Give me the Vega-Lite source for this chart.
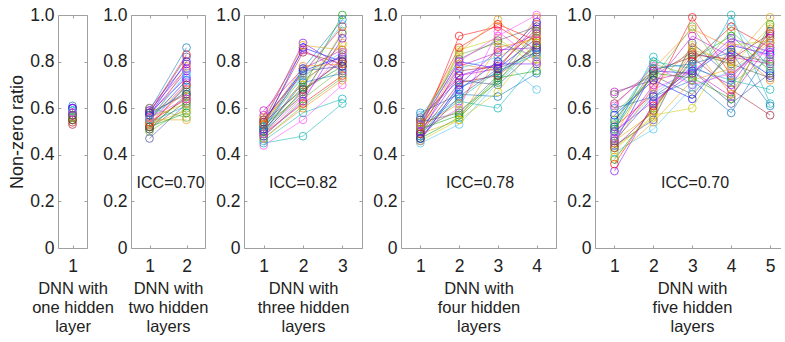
{
"$schema": "https://vega.github.io/schema/vega-lite/v6.json",
"padding": {"left": 8, "top": 6, "right": 0, "bottom": 0},
"background": "white",
"config": {
  "font": "Liberation Sans",
  "view": {"stroke": null},
  "axis": {"labelFont": "Liberation Sans", "labelFontSize": 17.5, "labelColor": "#222222", "titleFont": "Liberation Sans", "titleFontSize": 16.5, "titleFontWeight": "normal", "titleColor": "#222222", "titleLineHeight": 19, "domainColor": "#a0a0a0", "tickColor": "#a0a0a0", "tickSize": -3, "grid": false, "labelFlush": false, "labelOverlap": false, "labelBound": false}
},
"datasets": {"d": [
{"p":1,"s":1,"x":1,"y":0.57},{"p":1,"s":2,"x":1,"y":0.58},{"p":1,"s":3,"x":1,"y":0.56},{"p":1,"s":4,"x":1,"y":0.60},{"p":1,"s":5,"x":1,"y":0.55},{"p":1,"s":6,"x":1,"y":0.59},{"p":1,"s":7,"x":1,"y":0.57},{"p":1,"s":8,"x":1,"y":0.54},{"p":1,"s":9,"x":1,"y":0.58},{"p":1,"s":10,"x":1,"y":0.61},{"p":1,"s":11,"x":1,"y":0.56},{"p":1,"s":12,"x":1,"y":0.57},{"p":1,"s":13,"x":1,"y":0.59},{"p":1,"s":14,"x":1,"y":0.53},{"p":1,"s":15,"x":1,"y":0.58},{"p":1,"s":16,"x":1,"y":0.56},{"p":1,"s":17,"x":1,"y":0.60},{"p":1,"s":18,"x":1,"y":0.57},{"p":1,"s":19,"x":1,"y":0.55},{"p":1,"s":20,"x":1,"y":0.58},{"p":1,"s":21,"x":1,"y":0.59},{"p":1,"s":22,"x":1,"y":0.56},{"p":1,"s":23,"x":1,"y":0.57},{"p":1,"s":24,"x":1,"y":0.60},{"p":1,"s":25,"x":1,"y":0.54},{"p":1,"s":26,"x":1,"y":0.58},{"p":1,"s":27,"x":1,"y":0.57},{"p":1,"s":28,"x":1,"y":0.56},{"p":1,"s":29,"x":1,"y":0.59},{"p":1,"s":30,"x":1,"y":0.55},{"p":1,"s":31,"x":1,"y":0.58},{"p":1,"s":32,"x":1,"y":0.57},
{"p":2,"s":1,"x":1,"y":0.55},{"p":2,"s":1,"x":2,"y":0.72},
{"p":2,"s":2,"x":1,"y":0.58},{"p":2,"s":2,"x":2,"y":0.83},
{"p":2,"s":3,"x":1,"y":0.52},{"p":2,"s":3,"x":2,"y":0.65},
{"p":2,"s":4,"x":1,"y":0.60},{"p":2,"s":4,"x":2,"y":0.79},
{"p":2,"s":5,"x":1,"y":0.54},{"p":2,"s":5,"x":2,"y":0.61},
{"p":2,"s":6,"x":1,"y":0.56},{"p":2,"s":6,"x":2,"y":0.70},
{"p":2,"s":7,"x":1,"y":0.51},{"p":2,"s":7,"x":2,"y":0.63},
{"p":2,"s":8,"x":1,"y":0.57},{"p":2,"s":8,"x":2,"y":0.76},
{"p":2,"s":9,"x":1,"y":0.53},{"p":2,"s":9,"x":2,"y":0.68},
{"p":2,"s":10,"x":1,"y":0.59},{"p":2,"s":10,"x":2,"y":0.86},
{"p":2,"s":11,"x":1,"y":0.55},{"p":2,"s":11,"x":2,"y":0.55},
{"p":2,"s":12,"x":1,"y":0.50},{"p":2,"s":12,"x":2,"y":0.60},
{"p":2,"s":13,"x":1,"y":0.56},{"p":2,"s":13,"x":2,"y":0.74},
{"p":2,"s":14,"x":1,"y":0.58},{"p":2,"s":14,"x":2,"y":0.66},
{"p":2,"s":15,"x":1,"y":0.53},{"p":2,"s":15,"x":2,"y":0.71},
{"p":2,"s":16,"x":1,"y":0.47},{"p":2,"s":16,"x":2,"y":0.62},
{"p":2,"s":17,"x":1,"y":0.57},{"p":2,"s":17,"x":2,"y":0.80},
{"p":2,"s":18,"x":1,"y":0.54},{"p":2,"s":18,"x":2,"y":0.64},
{"p":2,"s":19,"x":1,"y":0.52},{"p":2,"s":19,"x":2,"y":0.58},
{"p":2,"s":20,"x":1,"y":0.59},{"p":2,"s":20,"x":2,"y":0.77},
{"p":2,"s":21,"x":1,"y":0.55},{"p":2,"s":21,"x":2,"y":0.69},
{"p":2,"s":22,"x":1,"y":0.56},{"p":2,"s":22,"x":2,"y":0.62},
{"p":2,"s":23,"x":1,"y":0.51},{"p":2,"s":23,"x":2,"y":0.66},
{"p":2,"s":24,"x":1,"y":0.58},{"p":2,"s":24,"x":2,"y":0.73},
{"p":2,"s":25,"x":1,"y":0.54},{"p":2,"s":25,"x":2,"y":0.78},
{"p":2,"s":26,"x":1,"y":0.57},{"p":2,"s":26,"x":2,"y":0.67},
{"p":2,"s":27,"x":1,"y":0.53},{"p":2,"s":27,"x":2,"y":0.59},
{"p":2,"s":28,"x":1,"y":0.60},{"p":2,"s":28,"x":2,"y":0.56},
{"p":2,"s":29,"x":1,"y":0.55},{"p":2,"s":29,"x":2,"y":0.75},
{"p":2,"s":30,"x":1,"y":0.52},{"p":2,"s":30,"x":2,"y":0.70},
{"p":2,"s":31,"x":1,"y":0.56},{"p":2,"s":31,"x":2,"y":0.64},
{"p":2,"s":32,"x":1,"y":0.58},{"p":2,"s":32,"x":2,"y":0.82},
{"p":3,"s":1,"x":1,"y":0.52},{"p":3,"s":1,"x":2,"y":0.86},{"p":3,"s":1,"x":3,"y":0.80},
{"p":3,"s":2,"x":1,"y":0.55},{"p":3,"s":2,"x":2,"y":0.75},{"p":3,"s":2,"x":3,"y":0.95},
{"p":3,"s":3,"x":1,"y":0.49},{"p":3,"s":3,"x":2,"y":0.68},{"p":3,"s":3,"x":3,"y":0.78},
{"p":3,"s":4,"x":1,"y":0.59},{"p":3,"s":4,"x":2,"y":0.77},{"p":3,"s":4,"x":3,"y":0.85},
{"p":3,"s":5,"x":1,"y":0.45},{"p":3,"s":5,"x":2,"y":0.48},{"p":3,"s":5,"x":3,"y":0.62},
{"p":3,"s":6,"x":1,"y":0.53},{"p":3,"s":6,"x":2,"y":0.65},{"p":3,"s":6,"x":3,"y":0.93},
{"p":3,"s":7,"x":1,"y":0.50},{"p":3,"s":7,"x":2,"y":0.72},{"p":3,"s":7,"x":3,"y":0.83},
{"p":3,"s":8,"x":1,"y":0.54},{"p":3,"s":8,"x":2,"y":0.88},{"p":3,"s":8,"x":3,"y":0.78},
{"p":3,"s":9,"x":1,"y":0.47},{"p":3,"s":9,"x":2,"y":0.60},{"p":3,"s":9,"x":3,"y":0.72},
{"p":3,"s":10,"x":1,"y":0.52},{"p":3,"s":10,"x":2,"y":0.77},{"p":3,"s":10,"x":3,"y":0.98},
{"p":3,"s":11,"x":1,"y":0.56},{"p":3,"s":11,"x":2,"y":0.70},{"p":3,"s":11,"x":3,"y":0.88},
{"p":3,"s":12,"x":1,"y":0.48},{"p":3,"s":12,"x":2,"y":0.64},{"p":3,"s":12,"x":3,"y":0.77},
{"p":3,"s":13,"x":1,"y":0.51},{"p":3,"s":13,"x":2,"y":0.74},{"p":3,"s":13,"x":3,"y":0.84},
{"p":3,"s":14,"x":1,"y":0.53},{"p":3,"s":14,"x":2,"y":0.84},{"p":3,"s":14,"x":3,"y":0.79},
{"p":3,"s":15,"x":1,"y":0.44},{"p":3,"s":15,"x":2,"y":0.55},{"p":3,"s":15,"x":3,"y":0.70},
{"p":3,"s":16,"x":1,"y":0.50},{"p":3,"s":16,"x":2,"y":0.66},{"p":3,"s":16,"x":3,"y":0.92},
{"p":3,"s":17,"x":1,"y":0.55},{"p":3,"s":17,"x":2,"y":0.76},{"p":3,"s":17,"x":3,"y":0.82},
{"p":3,"s":18,"x":1,"y":0.49},{"p":3,"s":18,"x":2,"y":0.62},{"p":3,"s":18,"x":3,"y":0.74},
{"p":3,"s":19,"x":1,"y":0.52},{"p":3,"s":19,"x":2,"y":0.69},{"p":3,"s":19,"x":3,"y":1.00},
{"p":3,"s":20,"x":1,"y":0.57},{"p":3,"s":20,"x":2,"y":0.85},{"p":3,"s":20,"x":3,"y":0.76},
{"p":3,"s":21,"x":1,"y":0.46},{"p":3,"s":21,"x":2,"y":0.58},{"p":3,"s":21,"x":3,"y":0.64},
{"p":3,"s":22,"x":1,"y":0.54},{"p":3,"s":22,"x":2,"y":0.73},{"p":3,"s":22,"x":3,"y":0.87},
{"p":3,"s":23,"x":1,"y":0.51},{"p":3,"s":23,"x":2,"y":0.67},{"p":3,"s":23,"x":3,"y":0.81},
{"p":3,"s":24,"x":1,"y":0.48},{"p":3,"s":24,"x":2,"y":0.63},{"p":3,"s":24,"x":3,"y":0.90},
{"p":3,"s":25,"x":1,"y":0.53},{"p":3,"s":25,"x":2,"y":0.78},{"p":3,"s":25,"x":3,"y":0.79},
{"p":3,"s":26,"x":1,"y":0.50},{"p":3,"s":26,"x":2,"y":0.71},{"p":3,"s":26,"x":3,"y":0.75},
{"p":3,"s":27,"x":1,"y":0.55},{"p":3,"s":27,"x":2,"y":0.87},{"p":3,"s":27,"x":3,"y":0.85},
{"p":3,"s":28,"x":1,"y":0.47},{"p":3,"s":28,"x":2,"y":0.61},{"p":3,"s":28,"x":3,"y":0.73},
{"p":3,"s":29,"x":1,"y":0.52},{"p":3,"s":29,"x":2,"y":0.75},{"p":3,"s":29,"x":3,"y":0.96},
{"p":3,"s":30,"x":1,"y":0.54},{"p":3,"s":30,"x":2,"y":0.68},{"p":3,"s":30,"x":3,"y":0.80},
{"p":3,"s":31,"x":1,"y":0.49},{"p":3,"s":31,"x":2,"y":0.65},{"p":3,"s":31,"x":3,"y":0.84},
{"p":3,"s":32,"x":1,"y":0.51},{"p":3,"s":32,"x":2,"y":0.76},{"p":3,"s":32,"x":3,"y":0.78},
{"p":4,"s":1,"x":1,"y":0.53},{"p":4,"s":1,"x":2,"y":0.80},{"p":4,"s":1,"x":3,"y":0.77},{"p":4,"s":1,"x":4,"y":0.90},
{"p":4,"s":2,"x":1,"y":0.50},{"p":4,"s":2,"x":2,"y":0.91},{"p":4,"s":2,"x":3,"y":0.95},{"p":4,"s":2,"x":4,"y":0.85},
{"p":4,"s":3,"x":1,"y":0.47},{"p":4,"s":3,"x":2,"y":0.56},{"p":4,"s":3,"x":3,"y":0.72},{"p":4,"s":3,"x":4,"y":0.88},
{"p":4,"s":4,"x":1,"y":0.55},{"p":4,"s":4,"x":2,"y":0.74},{"p":4,"s":4,"x":3,"y":0.77},{"p":4,"s":4,"x":4,"y":0.96},
{"p":4,"s":5,"x":1,"y":0.52},{"p":4,"s":5,"x":2,"y":0.63},{"p":4,"s":5,"x":3,"y":0.60},{"p":4,"s":5,"x":4,"y":0.80},
{"p":4,"s":6,"x":1,"y":0.48},{"p":4,"s":6,"x":2,"y":0.85},{"p":4,"s":6,"x":3,"y":0.90},{"p":4,"s":6,"x":4,"y":0.78},
{"p":4,"s":7,"x":1,"y":0.54},{"p":4,"s":7,"x":2,"y":0.58},{"p":4,"s":7,"x":3,"y":0.74},{"p":4,"s":7,"x":4,"y":0.93},
{"p":4,"s":8,"x":1,"y":0.46},{"p":4,"s":8,"x":2,"y":0.70},{"p":4,"s":8,"x":3,"y":0.85},{"p":4,"s":8,"x":4,"y":0.86},
{"p":4,"s":9,"x":1,"y":0.51},{"p":4,"s":9,"x":2,"y":0.79},{"p":4,"s":9,"x":3,"y":0.76},{"p":4,"s":9,"x":4,"y":0.99},
{"p":4,"s":10,"x":1,"y":0.58},{"p":4,"s":10,"x":2,"y":0.66},{"p":4,"s":10,"x":3,"y":0.65},{"p":4,"s":10,"x":4,"y":0.75},
{"p":4,"s":11,"x":1,"y":0.49},{"p":4,"s":11,"x":2,"y":0.55},{"p":4,"s":11,"x":3,"y":0.82},{"p":4,"s":11,"x":4,"y":0.91},
{"p":4,"s":12,"x":1,"y":0.53},{"p":4,"s":12,"x":2,"y":0.83},{"p":4,"s":12,"x":3,"y":0.88},{"p":4,"s":12,"x":4,"y":0.82},
{"p":4,"s":13,"x":1,"y":0.45},{"p":4,"s":13,"x":2,"y":0.53},{"p":4,"s":13,"x":3,"y":0.71},{"p":4,"s":13,"x":4,"y":0.87},
{"p":4,"s":14,"x":1,"y":0.52},{"p":4,"s":14,"x":2,"y":0.76},{"p":4,"s":14,"x":3,"y":0.78},{"p":4,"s":14,"x":4,"y":0.94},
{"p":4,"s":15,"x":1,"y":0.50},{"p":4,"s":15,"x":2,"y":0.60},{"p":4,"s":15,"x":3,"y":0.93},{"p":4,"s":15,"x":4,"y":0.80},
{"p":4,"s":16,"x":1,"y":0.56},{"p":4,"s":16,"x":2,"y":0.72},{"p":4,"s":16,"x":3,"y":0.70},{"p":4,"s":16,"x":4,"y":0.85},
{"p":4,"s":17,"x":1,"y":0.47},{"p":4,"s":17,"x":2,"y":0.68},{"p":4,"s":17,"x":3,"y":0.80},{"p":4,"s":17,"x":4,"y":0.97},
{"p":4,"s":18,"x":1,"y":0.54},{"p":4,"s":18,"x":2,"y":0.86},{"p":4,"s":18,"x":3,"y":0.96},{"p":4,"s":18,"x":4,"y":0.89},
{"p":4,"s":19,"x":1,"y":0.51},{"p":4,"s":19,"x":2,"y":0.57},{"p":4,"s":19,"x":3,"y":0.73},{"p":4,"s":19,"x":4,"y":0.76},
{"p":4,"s":20,"x":1,"y":0.49},{"p":4,"s":20,"x":2,"y":0.78},{"p":4,"s":20,"x":3,"y":0.84},{"p":4,"s":20,"x":4,"y":0.92},
{"p":4,"s":21,"x":1,"y":0.53},{"p":4,"s":21,"x":2,"y":0.64},{"p":4,"s":21,"x":3,"y":0.76},{"p":4,"s":21,"x":4,"y":0.83},
{"p":4,"s":22,"x":1,"y":0.46},{"p":4,"s":22,"x":2,"y":0.55},{"p":4,"s":22,"x":3,"y":0.67},{"p":4,"s":22,"x":4,"y":0.88},
{"p":4,"s":23,"x":1,"y":0.55},{"p":4,"s":23,"x":2,"y":0.81},{"p":4,"s":23,"x":3,"y":0.89},{"p":4,"s":23,"x":4,"y":0.95},
{"p":4,"s":24,"x":1,"y":0.50},{"p":4,"s":24,"x":2,"y":0.74},{"p":4,"s":24,"x":3,"y":0.79},{"p":4,"s":24,"x":4,"y":0.79},
{"p":4,"s":25,"x":1,"y":0.52},{"p":4,"s":25,"x":2,"y":0.62},{"p":4,"s":25,"x":3,"y":0.86},{"p":4,"s":25,"x":4,"y":0.90},
{"p":4,"s":26,"x":1,"y":0.48},{"p":4,"s":26,"x":2,"y":0.69},{"p":4,"s":26,"x":3,"y":0.75},{"p":4,"s":26,"x":4,"y":0.86},
{"p":4,"s":27,"x":1,"y":0.54},{"p":4,"s":27,"x":2,"y":0.84},{"p":4,"s":27,"x":3,"y":0.98},{"p":4,"s":27,"x":4,"y":0.81},
{"p":4,"s":28,"x":1,"y":0.51},{"p":4,"s":28,"x":2,"y":0.59},{"p":4,"s":28,"x":3,"y":0.71},{"p":4,"s":28,"x":4,"y":0.93},
{"p":4,"s":29,"x":1,"y":0.57},{"p":4,"s":29,"x":2,"y":0.77},{"p":4,"s":29,"x":3,"y":0.82},{"p":4,"s":29,"x":4,"y":0.68},
{"p":4,"s":30,"x":1,"y":0.49},{"p":4,"s":30,"x":2,"y":0.71},{"p":4,"s":30,"x":3,"y":0.74},{"p":4,"s":30,"x":4,"y":0.87},
{"p":4,"s":31,"x":1,"y":0.53},{"p":4,"s":31,"x":2,"y":0.80},{"p":4,"s":31,"x":3,"y":0.91},{"p":4,"s":31,"x":4,"y":1.00},
{"p":4,"s":32,"x":1,"y":0.47},{"p":4,"s":32,"x":2,"y":0.65},{"p":4,"s":32,"x":3,"y":0.77},{"p":4,"s":32,"x":4,"y":0.84},
{"p":5,"s":1,"x":1,"y":0.45},{"p":5,"s":1,"x":2,"y":0.76},{"p":5,"s":1,"x":3,"y":0.75},{"p":5,"s":1,"x":4,"y":0.87},{"p":5,"s":1,"x":5,"y":0.83},
{"p":5,"s":2,"x":1,"y":0.52},{"p":5,"s":2,"x":2,"y":0.66},{"p":5,"s":2,"x":3,"y":0.99},{"p":5,"s":2,"x":4,"y":0.74},{"p":5,"s":2,"x":5,"y":0.90},
{"p":5,"s":3,"x":1,"y":0.38},{"p":5,"s":3,"x":2,"y":0.60},{"p":5,"s":3,"x":3,"y":0.81},{"p":5,"s":3,"x":4,"y":0.91},{"p":5,"s":3,"x":5,"y":0.76},
{"p":5,"s":4,"x":1,"y":0.67},{"p":5,"s":4,"x":2,"y":0.72},{"p":5,"s":4,"x":3,"y":0.76},{"p":5,"s":4,"x":4,"y":0.65},{"p":5,"s":4,"x":5,"y":0.88},
{"p":5,"s":5,"x":1,"y":0.50},{"p":5,"s":5,"x":2,"y":0.82},{"p":5,"s":5,"x":3,"y":0.70},{"p":5,"s":5,"x":4,"y":1.00},{"p":5,"s":5,"x":5,"y":0.62},
{"p":5,"s":6,"x":1,"y":0.43},{"p":5,"s":6,"x":2,"y":0.56},{"p":5,"s":6,"x":3,"y":0.87},{"p":5,"s":6,"x":4,"y":0.78},{"p":5,"s":6,"x":5,"y":0.95},
{"p":5,"s":7,"x":1,"y":0.55},{"p":5,"s":7,"x":2,"y":0.74},{"p":5,"s":7,"x":3,"y":0.66},{"p":5,"s":7,"x":4,"y":0.83},{"p":5,"s":7,"x":5,"y":0.80},
{"p":5,"s":8,"x":1,"y":0.33},{"p":5,"s":8,"x":2,"y":0.62},{"p":5,"s":8,"x":3,"y":0.78},{"p":5,"s":8,"x":4,"y":0.70},{"p":5,"s":8,"x":5,"y":0.93},
{"p":5,"s":9,"x":1,"y":0.48},{"p":5,"s":9,"x":2,"y":0.77},{"p":5,"s":9,"x":3,"y":0.94},{"p":5,"s":9,"x":4,"y":0.86},{"p":5,"s":9,"x":5,"y":0.72},
{"p":5,"s":10,"x":1,"y":0.60},{"p":5,"s":10,"x":2,"y":0.65},{"p":5,"s":10,"x":3,"y":0.72},{"p":5,"s":10,"x":4,"y":0.58},{"p":5,"s":10,"x":5,"y":0.85},
{"p":5,"s":11,"x":1,"y":0.46},{"p":5,"s":11,"x":2,"y":0.58},{"p":5,"s":11,"x":3,"y":0.85},{"p":5,"s":11,"x":4,"y":0.80},{"p":5,"s":11,"x":5,"y":0.99},
{"p":5,"s":12,"x":1,"y":0.53},{"p":5,"s":12,"x":2,"y":0.79},{"p":5,"s":12,"x":3,"y":0.74},{"p":5,"s":12,"x":4,"y":0.93},{"p":5,"s":12,"x":5,"y":0.78},
{"p":5,"s":13,"x":1,"y":0.41},{"p":5,"s":13,"x":2,"y":0.51},{"p":5,"s":13,"x":3,"y":0.69},{"p":5,"s":13,"x":4,"y":0.76},{"p":5,"s":13,"x":5,"y":0.87},
{"p":5,"s":14,"x":1,"y":0.62},{"p":5,"s":14,"x":2,"y":0.76},{"p":5,"s":14,"x":3,"y":0.82},{"p":5,"s":14,"x":4,"y":0.68},{"p":5,"s":14,"x":5,"y":0.57},
{"p":5,"s":15,"x":1,"y":0.49},{"p":5,"s":15,"x":2,"y":0.68},{"p":5,"s":15,"x":3,"y":0.76},{"p":5,"s":15,"x":4,"y":0.88},{"p":5,"s":15,"x":5,"y":0.82},
{"p":5,"s":16,"x":1,"y":0.44},{"p":5,"s":16,"x":2,"y":0.55},{"p":5,"s":16,"x":3,"y":0.88},{"p":5,"s":16,"x":4,"y":0.73},{"p":5,"s":16,"x":5,"y":0.91},
{"p":5,"s":17,"x":1,"y":0.57},{"p":5,"s":17,"x":2,"y":0.72},{"p":5,"s":17,"x":3,"y":0.64},{"p":5,"s":17,"x":4,"y":0.85},{"p":5,"s":17,"x":5,"y":0.74},
{"p":5,"s":18,"x":1,"y":0.36},{"p":5,"s":18,"x":2,"y":0.61},{"p":5,"s":18,"x":3,"y":0.80},{"p":5,"s":18,"x":4,"y":0.95},{"p":5,"s":18,"x":5,"y":0.86},
{"p":5,"s":19,"x":1,"y":0.51},{"p":5,"s":19,"x":2,"y":0.75},{"p":5,"s":19,"x":3,"y":0.73},{"p":5,"s":19,"x":4,"y":0.64},{"p":5,"s":19,"x":5,"y":0.96},
{"p":5,"s":20,"x":1,"y":0.47},{"p":5,"s":20,"x":2,"y":0.70},{"p":5,"s":20,"x":3,"y":0.91},{"p":5,"s":20,"x":4,"y":0.82},{"p":5,"s":20,"x":5,"y":0.79},
{"p":5,"s":21,"x":1,"y":0.54},{"p":5,"s":21,"x":2,"y":0.80},{"p":5,"s":21,"x":3,"y":0.77},{"p":5,"s":21,"x":4,"y":0.72},{"p":5,"s":21,"x":5,"y":0.68},
{"p":5,"s":22,"x":1,"y":0.42},{"p":5,"s":22,"x":2,"y":0.57},{"p":5,"s":22,"x":3,"y":0.60},{"p":5,"s":22,"x":4,"y":0.87},{"p":5,"s":22,"x":5,"y":0.89},
{"p":5,"s":23,"x":1,"y":0.66},{"p":5,"s":23,"x":2,"y":0.74},{"p":5,"s":23,"x":3,"y":0.84},{"p":5,"s":23,"x":4,"y":0.79},{"p":5,"s":23,"x":5,"y":0.73},
{"p":5,"s":24,"x":1,"y":0.50},{"p":5,"s":24,"x":2,"y":0.63},{"p":5,"s":24,"x":3,"y":0.75},{"p":5,"s":24,"x":4,"y":0.90},{"p":5,"s":24,"x":5,"y":0.84},
{"p":5,"s":25,"x":1,"y":0.45},{"p":5,"s":25,"x":2,"y":0.69},{"p":5,"s":25,"x":3,"y":0.86},{"p":5,"s":25,"x":4,"y":0.66},{"p":5,"s":25,"x":5,"y":0.94},
{"p":5,"s":26,"x":1,"y":0.52},{"p":5,"s":26,"x":2,"y":0.77},{"p":5,"s":26,"x":3,"y":0.79},{"p":5,"s":26,"x":4,"y":0.84},{"p":5,"s":26,"x":5,"y":0.61},
{"p":5,"s":27,"x":1,"y":0.39},{"p":5,"s":27,"x":2,"y":0.54},{"p":5,"s":27,"x":3,"y":0.72},{"p":5,"s":27,"x":4,"y":0.77},{"p":5,"s":27,"x":5,"y":0.88},
{"p":5,"s":28,"x":1,"y":0.58},{"p":5,"s":28,"x":2,"y":0.73},{"p":5,"s":28,"x":3,"y":0.95},{"p":5,"s":28,"x":4,"y":0.71},{"p":5,"s":28,"x":5,"y":0.81},
{"p":5,"s":29,"x":1,"y":0.48},{"p":5,"s":29,"x":2,"y":0.66},{"p":5,"s":29,"x":3,"y":0.78},{"p":5,"s":29,"x":4,"y":0.97},{"p":5,"s":29,"x":5,"y":0.77},
{"p":5,"s":30,"x":1,"y":0.43},{"p":5,"s":30,"x":2,"y":0.59},{"p":5,"s":30,"x":3,"y":0.83},{"p":5,"s":30,"x":4,"y":0.81},{"p":5,"s":30,"x":5,"y":0.92},
{"p":5,"s":31,"x":1,"y":0.61},{"p":5,"s":31,"x":2,"y":0.78},{"p":5,"s":31,"x":3,"y":0.70},{"p":5,"s":31,"x":4,"y":0.75},{"p":5,"s":31,"x":5,"y":0.86},
{"p":5,"s":32,"x":1,"y":0.46},{"p":5,"s":32,"x":2,"y":0.65},{"p":5,"s":32,"x":3,"y":0.76},{"p":5,"s":32,"x":4,"y":0.62},{"p":5,"s":32,"x":5,"y":0.75}
]},
"bounds": "flush",
"spacing": 44,
"hconcat": [
{
  "width": 29, "height": 233,
  "layer": [
    {"data": {"name": "d"}, "transform": [{"filter": "datum.p == 1"}],
     "mark": {"type": "line", "strokeWidth": 0.7, "opacity": 0.75},
     "encoding": {
       "x": {"field": "x", "type": "quantitative", "scale": {"domain": [0.5, 1.5], "nice": false, "zero": false}, "axis": {"orient": "bottom", "values": [1], "format": "d", "labelPadding": 12, "title": ["DNN with", "one hidden", "layer"], "titlePadding": 6}},
       "y": {"field": "y", "type": "quantitative", "scale": {"domain": [0, 1], "nice": false}, "axis": {"orient": "left", "values": [0, 0.2, 0.4, 0.6, 0.8, 1], "labelExpr": "datum.value == 0 ? '0' : format(datum.value, '.1f')", "labelPadding": 7, "title": "Non-zero ratio", "titleFontSize": 18, "titlePadding": 3}},
       "color": {"field": "s", "type": "nominal", "scale": {"range": ["#0000ff","#ff0000","#00a000","#c000c0","#00b0b0","#c8c800","#505050","#8000ff","#ff8000","#0070c0","#e0a000","#60b030","#40c0f0","#a01030","#ff40ff","#4040a0"]}, "legend": null}
     }},
    {"data": {"name": "d"}, "transform": [{"filter": "datum.p == 1"}],
     "mark": {"type": "point", "shape": "circle", "filled": false, "size": 60, "strokeWidth": 0.8, "opacity": 0.85},
     "encoding": {
       "x": {"field": "x", "type": "quantitative", "scale": {"domain": [0.5, 1.5], "nice": false, "zero": false}, "axis": {"orient": "top", "values": [1], "labels": false, "title": null}},
       "y": {"field": "y", "type": "quantitative", "scale": {"domain": [0, 1], "nice": false}, "axis": {"orient": "right", "values": [0, 0.2, 0.4, 0.6, 0.8, 1], "labels": false, "title": null}},
       "color": {"field": "s", "type": "nominal", "legend": null}
     }}
  ],
  "resolve": {"axis": {"x": "independent", "y": "independent"}}
},
{
  "bounds": "flush",
  "spacing": 39,
  "hconcat": [
  {
    "width": 74, "height": 233,
    "layer": [
      {"data": {"name": "d"}, "transform": [{"filter": "datum.p == 2"}],
       "mark": {"type": "line", "strokeWidth": 0.7, "opacity": 0.75},
       "encoding": {
         "x": {"field": "x", "type": "quantitative", "scale": {"domain": [0.5, 2.5], "nice": false, "zero": false}, "axis": {"orient": "bottom", "values": [1, 2], "format": "d", "labelPadding": 12, "title": ["DNN with", "two hidden", "layers"], "titlePadding": 6}},
         "y": {"field": "y", "type": "quantitative", "scale": {"domain": [0, 1], "nice": false}, "axis": {"orient": "left", "values": [0, 0.2, 0.4, 0.6, 0.8, 1], "labelExpr": "datum.value == 0 ? '0' : format(datum.value, '.1f')", "labelPadding": 7, "title": null}},
         "color": {"field": "s", "type": "nominal", "legend": null}
       }},
      {"data": {"name": "d"}, "transform": [{"filter": "datum.p == 2"}],
       "mark": {"type": "point", "shape": "circle", "filled": false, "size": 60, "strokeWidth": 0.8, "opacity": 0.85},
       "encoding": {
         "x": {"field": "x", "type": "quantitative", "scale": {"domain": [0.5, 2.5], "nice": false, "zero": false}, "axis": {"orient": "top", "values": [1, 2], "labels": false, "title": null}},
         "y": {"field": "y", "type": "quantitative", "scale": {"domain": [0, 1], "nice": false}, "axis": {"orient": "right", "values": [0, 0.2, 0.4, 0.6, 0.8, 1], "labels": false, "title": null}},
         "color": {"field": "s", "type": "nominal", "legend": null}
       }},
      {"data": {"values": [{"t": "ICC=0.70"}]},
       "mark": {"type": "text", "fontSize": 16, "color": "#222222", "font": "Liberation Sans"},
       "encoding": {"x": {"datum": 1.57, "type": "quantitative", "axis": null}, "y": {"datum": 0.28, "type": "quantitative", "axis": null}, "text": {"field": "t"}}}
    ],
    "resolve": {"axis": {"x": "independent", "y": "independent"}}
  },
  {
    "width": 118, "height": 233,
    "layer": [
      {"data": {"name": "d"}, "transform": [{"filter": "datum.p == 3"}],
       "mark": {"type": "line", "strokeWidth": 0.7, "opacity": 0.75},
       "encoding": {
         "x": {"field": "x", "type": "quantitative", "scale": {"domain": [0.5, 3.5], "nice": false, "zero": false}, "axis": {"orient": "bottom", "values": [1, 2, 3], "format": "d", "labelPadding": 12, "title": ["DNN with", "three hidden", "layers"], "titlePadding": 6}},
         "y": {"field": "y", "type": "quantitative", "scale": {"domain": [0, 1], "nice": false}, "axis": {"orient": "left", "values": [0, 0.2, 0.4, 0.6, 0.8, 1], "labelExpr": "datum.value == 0 ? '0' : format(datum.value, '.1f')", "labelPadding": 7, "title": null}},
         "color": {"field": "s", "type": "nominal", "legend": null}
       }},
      {"data": {"name": "d"}, "transform": [{"filter": "datum.p == 3"}],
       "mark": {"type": "point", "shape": "circle", "filled": false, "size": 60, "strokeWidth": 0.8, "opacity": 0.85},
       "encoding": {
         "x": {"field": "x", "type": "quantitative", "scale": {"domain": [0.5, 3.5], "nice": false, "zero": false}, "axis": {"orient": "top", "values": [1, 2, 3], "labels": false, "title": null}},
         "y": {"field": "y", "type": "quantitative", "scale": {"domain": [0, 1], "nice": false}, "axis": {"orient": "right", "values": [0, 0.2, 0.4, 0.6, 0.8, 1], "labels": false, "title": null}},
         "color": {"field": "s", "type": "nominal", "legend": null}
       }},
      {"data": {"values": [{"t": "ICC=0.82"}]},
       "mark": {"type": "text", "fontSize": 16, "color": "#222222", "font": "Liberation Sans"},
       "encoding": {"x": {"datum": 2.0, "type": "quantitative", "axis": null}, "y": {"datum": 0.28, "type": "quantitative", "axis": null}, "text": {"field": "t"}}}
    ],
    "resolve": {"axis": {"x": "independent", "y": "independent"}}
  },
  {
    "width": 155, "height": 233,
    "layer": [
      {"data": {"name": "d"}, "transform": [{"filter": "datum.p == 4"}],
       "mark": {"type": "line", "strokeWidth": 0.7, "opacity": 0.75},
       "encoding": {
         "x": {"field": "x", "type": "quantitative", "scale": {"domain": [0.5, 4.5], "nice": false, "zero": false}, "axis": {"orient": "bottom", "values": [1, 2, 3, 4], "format": "d", "labelPadding": 12, "title": ["DNN with", "four hidden", "layers"], "titlePadding": 6}},
         "y": {"field": "y", "type": "quantitative", "scale": {"domain": [0, 1], "nice": false}, "axis": {"orient": "left", "values": [0, 0.2, 0.4, 0.6, 0.8, 1], "labelExpr": "datum.value == 0 ? '0' : format(datum.value, '.1f')", "labelPadding": 7, "title": null}},
         "color": {"field": "s", "type": "nominal", "legend": null}
       }},
      {"data": {"name": "d"}, "transform": [{"filter": "datum.p == 4"}],
       "mark": {"type": "point", "shape": "circle", "filled": false, "size": 60, "strokeWidth": 0.8, "opacity": 0.85},
       "encoding": {
         "x": {"field": "x", "type": "quantitative", "scale": {"domain": [0.5, 4.5], "nice": false, "zero": false}, "axis": {"orient": "top", "values": [1, 2, 3, 4], "labels": false, "title": null}},
         "y": {"field": "y", "type": "quantitative", "scale": {"domain": [0, 1], "nice": false}, "axis": {"orient": "right", "values": [0, 0.2, 0.4, 0.6, 0.8, 1], "labels": false, "title": null}},
         "color": {"field": "s", "type": "nominal", "legend": null}
       }},
      {"data": {"values": [{"t": "ICC=0.78"}]},
       "mark": {"type": "text", "fontSize": 16, "color": "#222222", "font": "Liberation Sans"},
       "encoding": {"x": {"datum": 2.54, "type": "quantitative", "axis": null}, "y": {"datum": 0.28, "type": "quantitative", "axis": null}, "text": {"field": "t"}}}
    ],
    "resolve": {"axis": {"x": "independent", "y": "independent"}}
  },
  {
    "width": 186, "height": 233,
    "layer": [
      {"data": {"name": "d"}, "transform": [{"filter": "datum.p == 5"}],
       "mark": {"type": "line", "strokeWidth": 0.7, "opacity": 0.75},
       "encoding": {
         "x": {"field": "x", "type": "quantitative", "scale": {"domain": [0.5, 5.28], "nice": false, "zero": false}, "axis": {"orient": "bottom", "values": [1, 2, 3, 4, 5], "format": "d", "labelPadding": 12, "title": ["DNN with", "five hidden", "layers"], "titlePadding": 6, "titleX": 97}},
         "y": {"field": "y", "type": "quantitative", "scale": {"domain": [0, 1], "nice": false}, "axis": {"orient": "left", "values": [0, 0.2, 0.4, 0.6, 0.8, 1], "labelExpr": "datum.value == 0 ? '0' : format(datum.value, '.1f')", "labelPadding": 7, "title": null}},
         "color": {"field": "s", "type": "nominal", "legend": null}
       }},
      {"data": {"name": "d"}, "transform": [{"filter": "datum.p == 5"}],
       "mark": {"type": "point", "shape": "circle", "filled": false, "size": 60, "strokeWidth": 0.8, "opacity": 0.85},
       "encoding": {
         "x": {"field": "x", "type": "quantitative", "scale": {"domain": [0.5, 5.28], "nice": false, "zero": false}, "axis": {"orient": "top", "values": [1, 2, 3, 4, 5], "labels": false, "title": null}},
         "y": {"field": "y", "type": "quantitative", "scale": {"domain": [0, 1], "nice": false}, "axis": null},
         "color": {"field": "s", "type": "nominal", "legend": null}
       }},
      {"data": {"values": [{"t": "ICC=0.70"}]},
       "mark": {"type": "text", "fontSize": 16, "color": "#222222", "font": "Liberation Sans"},
       "encoding": {"x": {"datum": 3.07, "type": "quantitative", "axis": null}, "y": {"datum": 0.28, "type": "quantitative", "axis": null}, "text": {"field": "t"}}}
    ],
    "resolve": {"axis": {"x": "independent", "y": "independent"}}
  }
  ]
}
]
}
